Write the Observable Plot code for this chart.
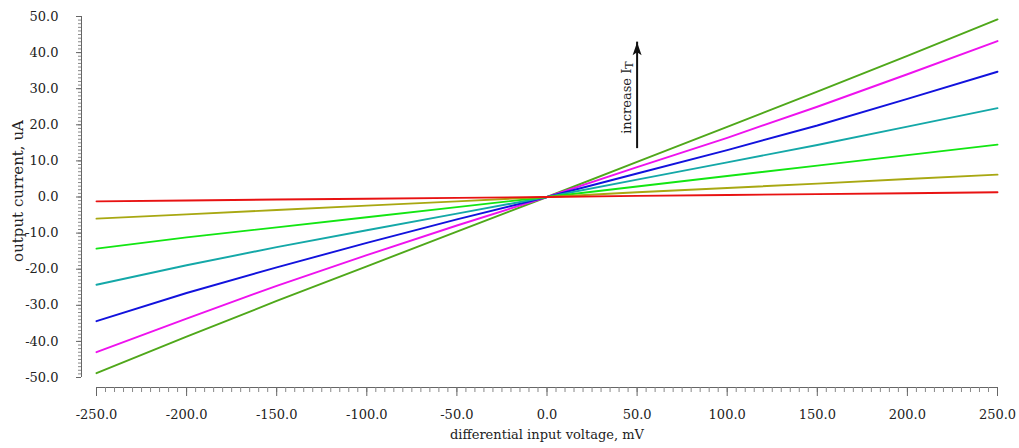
<!DOCTYPE html>
<html><head><meta charset="utf-8">
<script src="https://cdn.jsdelivr.net/npm/d3@7"></script>
<script src="https://cdn.jsdelivr.net/npm/@observablehq/plot@0.6"></script>
<style>html,body{margin:0;padding:0;background:#fff} svg{display:block}</style>
</head><body><div id="chart"></div>
<script>
// differential input voltage, mV
const voltages = [-250, -200, -150, -100, -50, 0, 50, 100, 150, 200, 250];
// output current, uA, one array per bias current I_T (steepest first)
const currentIT7 = [-48.8, -38.7, -28.8, -19.2, -9.6, 0, 9.7, 19.4, 29.2, 39.1, 49.2];
const currentIT6 = [-43.0, -33.7, -24.6, -16.1, -7.9, 0, 8.3, 16.4, 25.0, 34.0, 43.2];
const currentIT5 = [-34.4, -26.6, -19.5, -12.7, -6.2, 0, 6.5, 13.0, 19.8, 27.2, 34.7];
const currentIT4 = [-24.3, -18.9, -13.9, -9.2, -4.6, 0, 4.8, 9.6, 14.4, 19.5, 24.6];
const currentIT3 = [-14.3, -11.2, -8.4, -5.6, -2.8, 0, 2.9, 5.8, 8.7, 11.6, 14.5];
const currentIT2 = [-6.0, -4.8, -3.6, -2.4, -1.2, 0, 1.3, 2.5, 3.7, 5.0, 6.2];
const currentIT1 = [-1.2, -0.95, -0.7, -0.5, -0.25, 0, 0.3, 0.55, 0.8, 1.05, 1.3];
const seriesNames = ["IT7", "IT6", "IT5", "IT4", "IT3", "IT2", "IT1"];
const seriesValues = [currentIT7, currentIT6, currentIT5, currentIT4, currentIT3, currentIT2, currentIT1];
const lineColors = ["#4fa81a", "#ee12ee", "#1212dd", "#14a8a8", "#12e612", "#a8a812", "#e81212"];

// axis ticks
const xTickValues = [-250, -200, -150, -100, -50, 0, 50, 100, 150, 200, 250];
const xTickLabels = ["-250.0", "-200.0", "-150.0", "-100.0", "-50.0", "0.0", "50.0", "100.0", "150.0", "200.0", "250.0"];
const yTickValues = [-50, -40, -30, -20, -10, 0, 10, 20, 30, 40, 50];
const yTickLabels = ["-50.0", "-40.0", "-30.0", "-20.0", "-10.0", "0.0", "10.0", "20.0", "30.0", "40.0", "50.0"];
const xMinorTicks = d3.range(-250, 251, 5);
const yMinorTicks = d3.range(-50, 51, 1);

// annotation arrow (data coordinates)
const arrowX = [50];
const arrowFrom = [13.4];
const arrowTo = [42.9];
const annotX = [44.1];
const annotY = [17.5];
const annotText = ["increase I"];
const annotSub = ["T"];

const rows = seriesNames.flatMap((s, i) => voltages.map((v, j) => ({s, v, i: seriesValues[i][j]})));
const arrowRows = arrowX.map((x, k) => ({x, y1: arrowFrom[k], y2: arrowTo[k]}));
const annotRows = annotX.map((x, k) => ({x, y: annotY[k], t: annotText[k]}));

const arrowHead = {
  draw(ctx) {
    ctx.moveTo(0, 0);
    ctx.lineTo(4.5, 13);
    ctx.lineTo(0, 10);
    ctx.lineTo(-4.5, 13);
    ctx.closePath();
  }
};

const xFmt = d => xTickLabels[xTickValues.indexOf(d)];
const yFmt = d => yTickLabels[yTickValues.indexOf(d)];

const chart = Plot.plot({
  width: 1019,
  height: 448,
  marginLeft: 96,
  marginRight: 22,
  marginTop: 16,
  marginBottom: 71,
  style: {fontFamily: "'DejaVu Serif', serif", fontSize: "13px", color: "#222", background: "#fff", overflow: "visible"},
  x: {domain: [-250, 250]},
  y: {domain: [-50, 50]},
  color: {domain: seriesNames, range: lineColors},
  marks: [
    Plot.ruleY([-50], {x1: -250, x2: 250, dy: 10, stroke: "#666"}),
    Plot.axisX(xMinorTicks, {tickSize: 5, tickFormat: () => "", dy: 10, stroke: "#888", label: null}),
    Plot.axisX(xTickValues, {tickSize: 9, tickPadding: 13, tickFormat: xFmt, dy: 10, stroke: "#666", fill: "#222", label: null}),
    Plot.ruleX([-250], {y1: -50, y2: 50, dx: -15, stroke: "#666"}),
    Plot.axisY(yMinorTicks, {tickSize: 3, tickFormat: () => "", dx: -15, stroke: "#888", label: null}),
    Plot.axisY(yTickValues, {tickSize: 5, tickPadding: 18, tickFormat: yFmt, dx: -15, stroke: "#666", fill: "#222", label: null}),
    Plot.line(rows, {x: "v", y: "i", z: "s", stroke: "s", strokeWidth: 1.9}),
    Plot.ruleX(arrowRows, {x: "x", y1: "y1", y2: "y2", stroke: "#111", strokeWidth: 2}),
    Plot.dot(arrowRows, {x: "x", y: "y2", symbol: arrowHead, fill: "#111", stroke: null}),
    Plot.text(annotRows, {x: "x", y: "y", text: "t", rotate: -90, textAnchor: "start", lineAnchor: "middle", fill: "#222"}),
    Plot.text(["output current, uA"], {frameAnchor: "left", textAnchor: "middle", lineAnchor: "middle", dx: -78, dy: -6, rotate: -90, fontSize: 15, fill: "#222"}),
    Plot.text(["differential input voltage, mV"], {frameAnchor: "bottom", textAnchor: "middle", lineAnchor: "middle", dy: 57, fill: "#222"})
  ]
});

document.getElementById("chart").appendChild(chart);
d3.select(chart).selectAll("text").filter(function() { return this.textContent === annotText[0]; }).each(function() {
  d3.select(this).append("tspan").attr("dy", "0.25em").attr("font-size", "11px").text(annotSub[0]);
});
</script>
</body></html>
